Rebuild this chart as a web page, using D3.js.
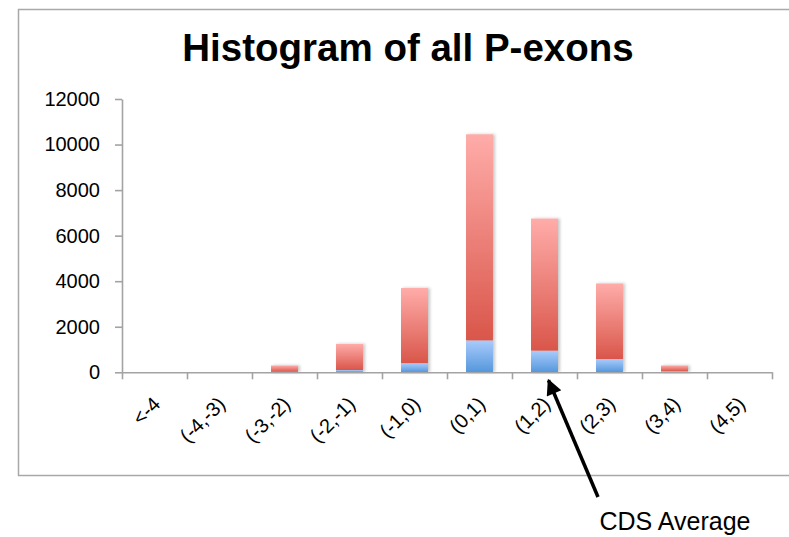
<!DOCTYPE html>
<html>
<head>
<meta charset="utf-8">
<script src="https://cdn.jsdelivr.net/npm/d3@7"></script>
<style>
  html, body { margin: 0; padding: 0; background: #fff; }
  svg { display: block; font-family: "Liberation Sans", Arial, Helvetica, sans-serif; }
</style>
</head>
<body>
<div id="chart"></div>
<script>
// bins of the histogram
var categories = ["<-4", "(-4,-3)", "(-3,-2)", "(-2,-1)", "(-1,0)", "(0,1)", "(1,2)", "(2,3)", "(3,4)", "(4,5)"];
// lower (blue) part of each bar
var cdsCounts = [0, 0, 20, 100, 400, 1400, 950, 580, 50, 0];
// upper (red) part of each bar
var otherCounts = [0, 0, 280, 1150, 3300, 9050, 5800, 3320, 250, 0];
var yTicks = [0, 2000, 4000, 6000, 8000, 10000, 12000];
var seriesKeys = ["cds", "other"];

var draw = function(){
  var width = 789, height = 537;
  var plot = {left: 122, right: 772, top: 99, bottom: 372.3};

  var svg = d3.select("#chart")
    .append("svg")
    .attr("width", width)
    .attr("height", height);

  var defs = svg.append("defs");

  // vertical gradients for the two series
  var gradient = function(id, top, bottom){
    var g = defs.append("linearGradient")
      .attr("id", id)
      .attr("x1", 0).attr("y1", 0).attr("x2", 0).attr("y2", 1);
    g.append("stop").attr("offset", "0%").attr("stop-color", top);
    g.append("stop").attr("offset", "100%").attr("stop-color", bottom);
  };
  gradient("grad-other", "#ffaca9", "#d9564a");
  gradient("grad-cds", "#a9cbfb", "#5497dc");

  defs.append("filter")
    .attr("id", "shadow")
    .attr("x", "-20%").attr("y", "-5%").attr("width", "150%").attr("height", "110%")
    .append("feDropShadow")
    .attr("dx", 2).attr("dy", 0).attr("stdDeviation", 1.4)
    .attr("flood-color", "#000").attr("flood-opacity", 0.22);

  // outer chart frame
  svg.append("rect")
    .attr("x", 18.5).attr("y", 9.5)
    .attr("width", width + 10).attr("height", 466)
    .attr("fill", "none")
    .attr("stroke", "#a8a8a8")
    .attr("stroke-width", 1.5);

  svg.append("text")
    .attr("x", 408)
    .attr("y", 61)
    .attr("text-anchor", "middle")
    .attr("font-size", 38.5)
    .attr("font-weight", "bold")
    .attr("fill", "#000")
    .text("Histogram of all P-exons");

  var x = d3.scaleBand()
    .domain(categories)
    .range([plot.left, plot.right])
    .paddingInner(0.585)
    .paddingOuter(0.2925);

  var edges = d3.scaleLinear()
    .domain([0, categories.length])
    .range([plot.left, plot.right]);

  var y = d3.scaleLinear()
    .domain([0, 12000])
    .range([plot.bottom, plot.top]);

  var rows = categories.map(function(c, i){
    return {category: c, cds: cdsCounts[i], other: otherCounts[i]};
  });
  var stacked = d3.stack().keys(seriesKeys)(rows);

  var fills = {cds: "url(#grad-cds)", other: "url(#grad-other)"};

  svg.append("g")
    .attr("filter", "url(#shadow)")
    .selectAll("g")
    .data(stacked)
    .join("g")
    .attr("fill", function(s){ return fills[s.key]; })
    .selectAll("rect")
    .data(function(s){ return s; })
    .join("rect")
    .attr("x", function(d){ return x(d.data.category); })
    .attr("width", x.bandwidth())
    .attr("y", function(d){ return y(d[1]); })
    .attr("height", function(d){ return y(d[0]) - y(d[1]); });

  // y axis
  var yAxis = svg.append("g")
    .attr("transform", "translate(" + plot.left + ",0)")
    .call(d3.axisLeft(y).tickValues(yTicks).tickFormat(d3.format("d"))
      .tickSize(7).tickSizeOuter(0).tickPadding(15));
  yAxis.selectAll("text").attr("font-size", 20).attr("fill", "#000").attr("font-family", null);

  // x axis: boundary ticks
  var xAxis = svg.append("g")
    .attr("transform", "translate(0," + plot.bottom + ")")
    .call(d3.axisBottom(edges).ticks(categories.length).tickSize(7).tickSizeOuter(0).tickFormat(""));

  // x axis: rotated category labels
  var xLabels = svg.append("g")
    .attr("transform", "translate(0," + plot.bottom + ")")
    .call(d3.axisBottom(x).tickSize(0).tickSizeOuter(0));
  xLabels.select(".domain").remove();
  xLabels.selectAll("text")
    .attr("font-size", 20)
    .attr("fill", "#000")
    .attr("font-family", null)
    .attr("text-anchor", "end")
    .attr("dy", null)
    .attr("y", 0)
    .attr("transform", "translate(7,33) rotate(-45)");

  [yAxis, xAxis].forEach(function(a){
    a.selectAll(".domain, line").attr("stroke", "#a3a3a3").attr("stroke-width", 1.6);
  });

  // "CDS Average" annotation pointing at the (1,2) bin
  defs.append("marker")
    .attr("id", "arrowhead")
    .attr("viewBox", "0 0 10 10")
    .attr("refX", 9).attr("refY", 5)
    .attr("markerWidth", 5.5).attr("markerHeight", 4.5)
    .attr("orient", "auto")
    .attr("markerUnits", "strokeWidth")
    .append("path")
    .attr("d", "M0,0 L10,5 L0,10 Z")
    .attr("fill", "#000");

  var tipX = x("(1,2)") + x.bandwidth() / 2 + 4;
  var tipY = y(0) + 8;
  svg.append("line")
    .attr("x1", 598).attr("y1", 497)
    .attr("x2", tipX).attr("y2", tipY)
    .attr("stroke", "#000")
    .attr("stroke-width", 3.5)
    .attr("marker-end", "url(#arrowhead)");

  svg.append("text")
    .attr("x", 675)
    .attr("y", 530)
    .attr("text-anchor", "middle")
    .attr("font-size", 25)
    .attr("fill", "#000")
    .text("CDS Average");
};
draw();
</script>
</body>
</html>
